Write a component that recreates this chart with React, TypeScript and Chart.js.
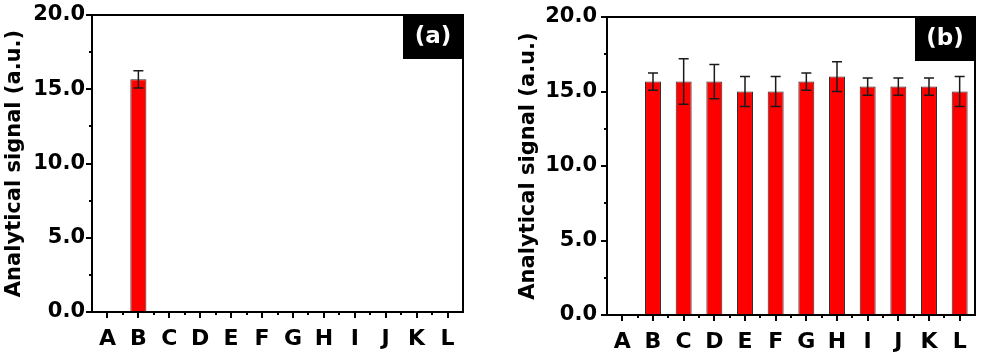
import React, { useEffect, useRef } from 'react';
import { Chart, registerables } from 'chart.js';

Chart.register(...registerables);

const categories = ['A', 'B', 'C', 'D', 'E', 'F', 'G', 'H', 'I', 'J', 'K', 'L'];
const yTickValues = [0, 5, 10, 15, 20];
const yMinorTickValues = [2.5, 7.5, 12.5, 17.5];

const panelAValues = [null, 15.67, null, null, null, null, null, null, null, null, null, null];
const panelAErrors = [null, 0.58, null, null, null, null, null, null, null, null, null, null];

const panelBValues = [null, 15.67, 15.67, 15.67, 15.0, 15.0, 15.67, 16.0, 15.33, 15.33, 15.33, 15.0];
const panelBErrors = [null, 0.58, 1.53, 1.15, 1.0, 1.0, 0.58, 1.0, 0.58, 0.58, 0.58, 1.0];

const FONT = "'DejaVu Sans', 'Liberation Sans', sans-serif";

const extrasPlugin = {
  id: 'extras',
  afterDatasetsDraw(chart: any, _args: any, opts: any) {
    const { ctx, chartArea: ca, scales } = chart;
    const x = scales.x;
    const y = scales.y;
    const vals = chart.data.datasets[0].data as (number | null)[];
    const errs = opts.errors as (number | null)[];
    ctx.save();
    // error bars
    ctx.strokeStyle = '#1a1a1a';
    ctx.lineWidth = 1.5;
    vals.forEach((v, i) => {
      const e = errs[i];
      if (v == null || e == null) return;
      const px = x.getPixelForValue(i);
      const top = y.getPixelForValue(v + e);
      const bot = y.getPixelForValue(v - e);
      ctx.beginPath();
      ctx.moveTo(px, top);
      ctx.lineTo(px, bot);
      ctx.moveTo(px - 5, top);
      ctx.lineTo(px + 5, top);
      ctx.moveTo(px - 5, bot);
      ctx.lineTo(px + 5, bot);
      ctx.stroke();
    });
    // frame
    ctx.strokeStyle = '#000';
    ctx.lineWidth = 2;
    ctx.strokeRect(ca.left, ca.top, ca.right - ca.left, ca.bottom - ca.top);
    // minor ticks
    ctx.lineWidth = 2;
    ctx.beginPath();
    for (let i = 0; i < categories.length - 1; i++) {
      const px = Math.round(x.getPixelForValue(i + 0.5));
      ctx.moveTo(px, ca.bottom);
      ctx.lineTo(px, ca.bottom + 3);
    }
    yMinorTickValues.forEach((v) => {
      const py = Math.round(y.getPixelForValue(v));
      ctx.moveTo(ca.left, py);
      ctx.lineTo(ca.left - 3, py);
    });
    ctx.stroke();
    // label box
    const bw = 60;
    const bh = 44;
    ctx.fillStyle = '#000';
    ctx.fillRect(ca.right - bw, ca.top, bw, bh);
    ctx.fillStyle = '#fff';
    ctx.font = `bold 23px ${FONT}`;
    ctx.textAlign = 'center';
    ctx.textBaseline = 'middle';
    ctx.fillText(opts.label, ca.right - bw / 2, ca.top + bh / 2);
    ctx.restore();
  },
};

type PanelProps = {
  values: (number | null)[];
  errors: (number | null)[];
  label: string;
  left: number;
  width: number;
  padLeft: number;
  padTop: number;
  padRight: number;
  yWidth: number;
  xHeight: number;
  yTickPad: number;
};

function Panel(p: PanelProps) {
  const ref = useRef<HTMLCanvasElement | null>(null);
  useEffect(() => {
    if (!ref.current) return;
    const chart = new Chart(ref.current, {
      type: 'bar',
      data: {
        labels: categories,
        datasets: [
          {
            data: p.values as any,
            backgroundColor: '#ff0000',
            borderColor: '#2a2a2a',
            borderWidth: 1,
            barPercentage: 0.52,
            categoryPercentage: 1,
          },
        ],
      },
      options: {
        animation: false,
        responsive: false,
        layout: { padding: { left: p.padLeft, top: p.padTop, right: p.padRight, bottom: 0 } },
        plugins: {
          legend: { display: false },
          tooltip: { enabled: false },
          extras: { errors: p.errors, label: p.label },
        } as any,
        scales: {
          x: {
            offset: true,
            grid: {
              display: true,
              drawOnChartArea: false,
              drawTicks: true,
              tickLength: 6,
              color: '#000',
              lineWidth: 2,
              offset: false,
            },
            border: { display: true, color: '#000', width: 2 },
            ticks: {
              color: '#000',
              font: { family: FONT, size: 22, weight: 'bold' },
              padding: 8,
              maxRotation: 0,
              autoSkip: false,
            },
            afterFit: (s: any) => {
              s.height = p.xHeight;
            },
          },
          y: {
            min: 0,
            max: 20,
            grid: {
              display: true,
              drawOnChartArea: false,
              drawTicks: true,
              tickLength: 6,
              color: '#000',
              lineWidth: 2,
            },
            border: { display: true, color: '#000', width: 2 },
            afterBuildTicks: (s: any) => {
              s.ticks = yTickValues.map((v) => ({ value: v }));
            },
            ticks: {
              color: '#000',
              font: { family: FONT, size: 21, weight: 'bold' },
              padding: p.yTickPad,
              callback: (v: any) => Number(v).toFixed(1),
            },
            title: {
              display: true,
              text: 'Analytical signal (a.u.)',
              color: '#000',
              font: { family: FONT, size: 21, weight: 'bold' },
              padding: { top: 2, bottom: 0 },
            },
            afterFit: (s: any) => {
              s.width = p.yWidth;
            },
          },
        },
      },
      plugins: [extrasPlugin],
    } as any);
    return () => chart.destroy();
  }, []);
  return (
    <div style={{ position: 'absolute', left: p.left, top: 0, width: p.width, height: 352 }}>
      <canvas ref={ref} width={p.width} height={352} style={{ display: 'block' }} />
    </div>
  );
}

export default function App() {
  return (
    <div style={{ position: 'fixed', left: 0, top: 0, width: 981, height: 352, background: '#fff' }}>
      <Panel
        values={panelAValues}
        errors={panelAErrors}
        label="(a)"
        left={0}
        width={480}
        padLeft={0}
        padTop={15}
        padRight={17}
        yWidth={92}
        xHeight={40}
        yTickPad={1}
      />
      <Panel
        values={panelBValues}
        errors={panelBErrors}
        label="(b)"
        left={500}
        width={481}
        padLeft={14}
        padTop={17}
        padRight={6}
        yWidth={93}
        xHeight={37}
        yTickPad={4}
      />
    </div>
  );
}
